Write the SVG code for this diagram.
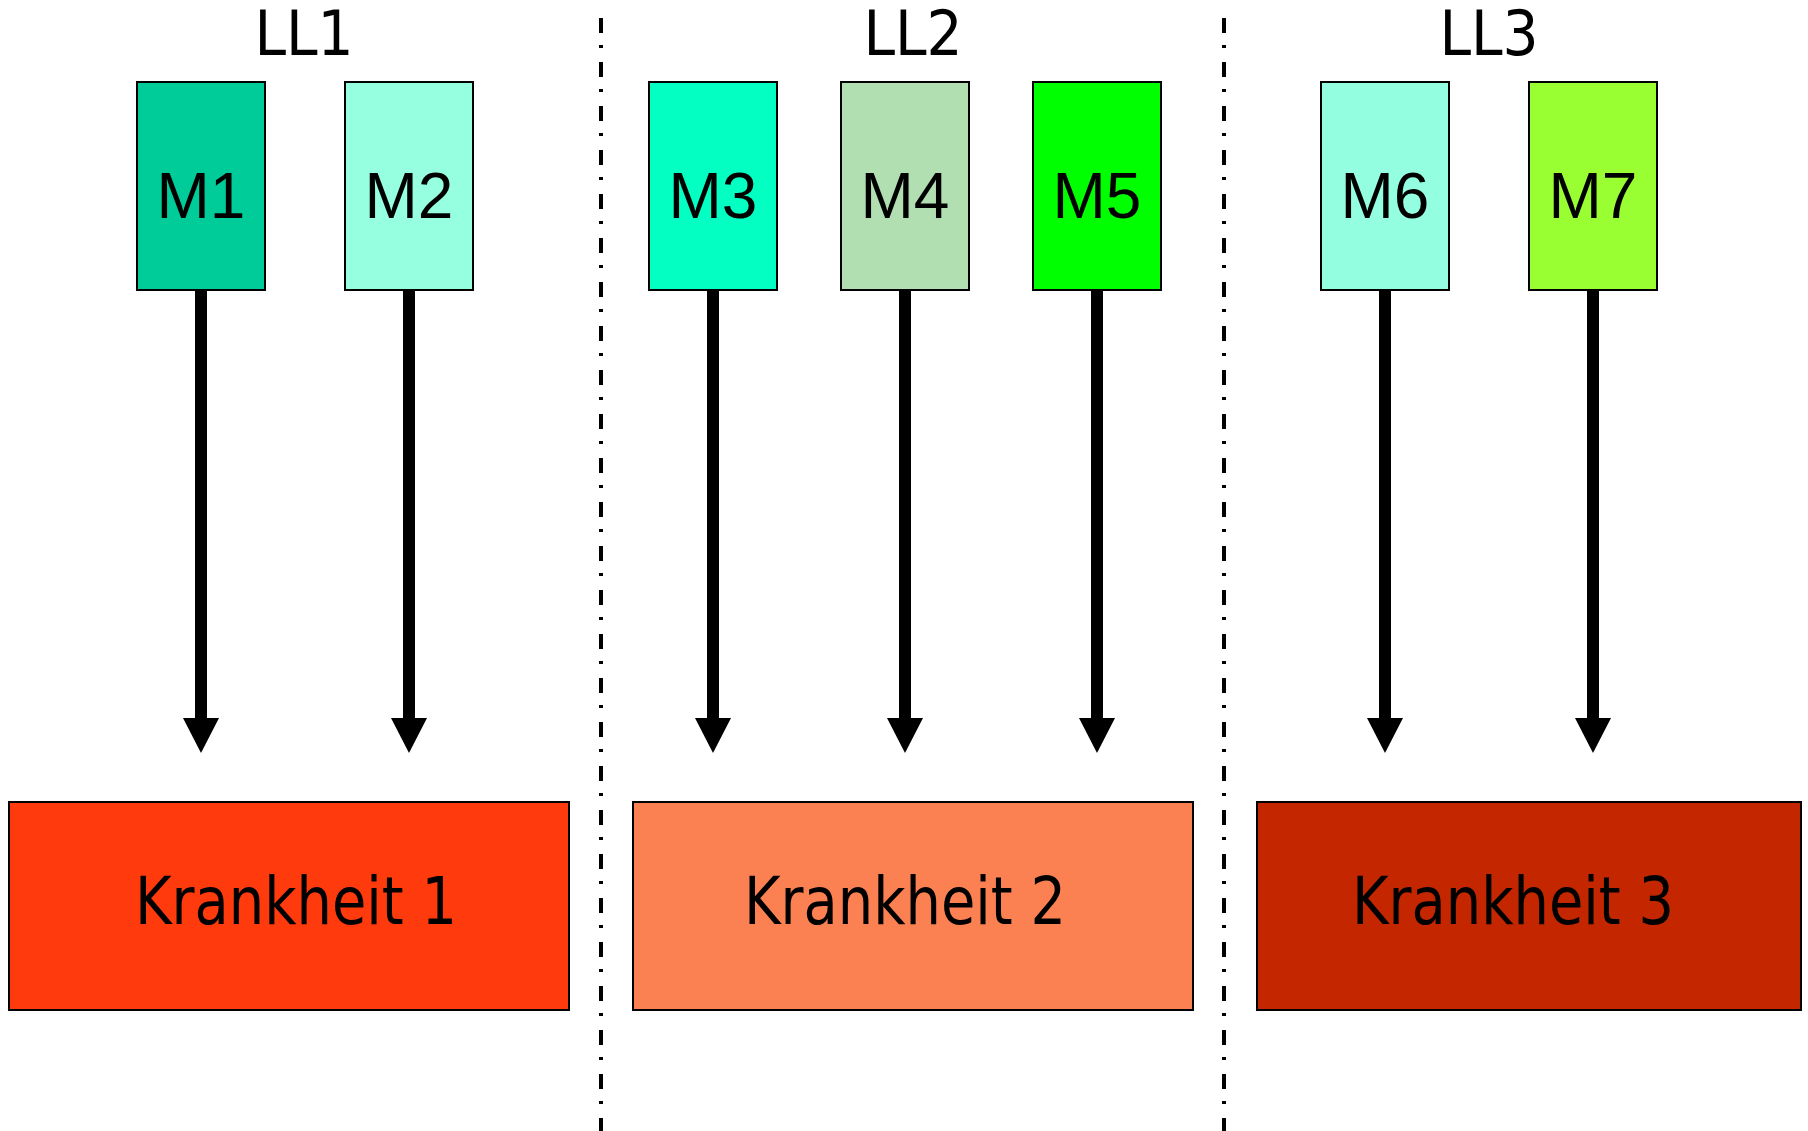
<svg xmlns="http://www.w3.org/2000/svg" width="1808" height="1131" viewBox="0 0 1808 1131">
  <style>
    .m { stroke: #000; stroke-width: 2; }
    .k { stroke: #000; stroke-width: 2; }
    .mt { font-family: "Liberation Sans", Arial, sans-serif; font-size: 64px; fill: #000; text-anchor: middle; }
    .kt { font-family: "DejaVu Sans Condensed", "DejaVu Sans", sans-serif; font-size: 65px; fill: #000; text-anchor: middle; }
    .ll { font-family: "DejaVu Sans Condensed", "DejaVu Sans", sans-serif; font-size: 63px; fill: #000; text-anchor: middle; }
    .sep { stroke: #000; stroke-width: 4; stroke-dasharray: 15 12 3 14; fill: none; }
    .arrow { stroke: #000; stroke-width: 12; fill: none; marker-end: url(#head); }
  </style>
  <defs>
    <marker id="head" markerUnits="userSpaceOnUse" markerWidth="35" markerHeight="36" viewBox="0 0 35 36" refX="0" refY="18" orient="auto">
      <path d="M0,0 L35,18 L0,36 Z" fill="#000"/>
    </marker>
  </defs>

  <!-- group separators -->
  <g id="separators">
    <line class="sep" x1="601" y1="18" x2="601" y2="1131"/>
    <line class="sep" x1="1224" y1="18" x2="1224" y2="1131"/>
  </g>

  <!-- group titles -->
  <g id="titles">
    <text id="ll1" class="ll" x="304" y="55">LL1</text>
    <text id="ll2" class="ll" x="913" y="55">LL2</text>
    <text id="ll3" class="ll" x="1489" y="55">LL3</text>
  </g>

  <!-- connectors -->
  <g id="connectors">
    <line class="arrow" x1="201" y1="290" x2="201" y2="718"/>
    <line class="arrow" x1="409" y1="290" x2="409" y2="718"/>
    <line class="arrow" x1="713" y1="290" x2="713" y2="718"/>
    <line class="arrow" x1="905" y1="290" x2="905" y2="718"/>
    <line class="arrow" x1="1097" y1="290" x2="1097" y2="718"/>
    <line class="arrow" x1="1385" y1="290" x2="1385" y2="718"/>
    <line class="arrow" x1="1593" y1="290" x2="1593" y2="718"/>
  </g>

  <!-- M nodes -->
  <g id="M1"><rect class="m" x="137" y="82" width="128" height="208" fill="#00CC99"/><text class="mt" x="201" y="218">M1</text></g>
  <g id="M2"><rect class="m" x="345" y="82" width="128" height="208" fill="#96FFE0"/><text class="mt" x="409" y="218">M2</text></g>
  <g id="M3"><rect class="m" x="649" y="82" width="128" height="208" fill="#03FFC2"/><text class="mt" x="713" y="218">M3</text></g>
  <g id="M4"><rect class="m" x="841" y="82" width="128" height="208" fill="#B2DFB2"/><text class="mt" x="905" y="218">M4</text></g>
  <g id="M5"><rect class="m" x="1033" y="82" width="128" height="208" fill="#00FF00"/><text class="mt" x="1097" y="218">M5</text></g>
  <g id="M6"><rect class="m" x="1321" y="82" width="128" height="208" fill="#93FFE0"/><text class="mt" x="1385" y="218">M6</text></g>
  <g id="M7"><rect class="m" x="1529" y="82" width="128" height="208" fill="#99FF33"/><text class="mt" x="1593" y="218">M7</text></g>

  <!-- disease nodes -->
  <g id="K1"><rect class="k" x="9" y="802" width="560" height="208" fill="#FF3A0D"/><text class="kt" x="296" y="924" textLength="322" lengthAdjust="spacingAndGlyphs">Krankheit 1</text></g>
  <g id="K2"><rect class="k" x="633" y="802" width="560" height="208" fill="#FB8052"/><text class="kt" x="905" y="924" textLength="322" lengthAdjust="spacingAndGlyphs">Krankheit 2</text></g>
  <g id="K3"><rect class="k" x="1257" y="802" width="544" height="208" fill="#C42600"/><text class="kt" x="1513" y="924" textLength="322" lengthAdjust="spacingAndGlyphs">Krankheit 3</text></g>
</svg>
